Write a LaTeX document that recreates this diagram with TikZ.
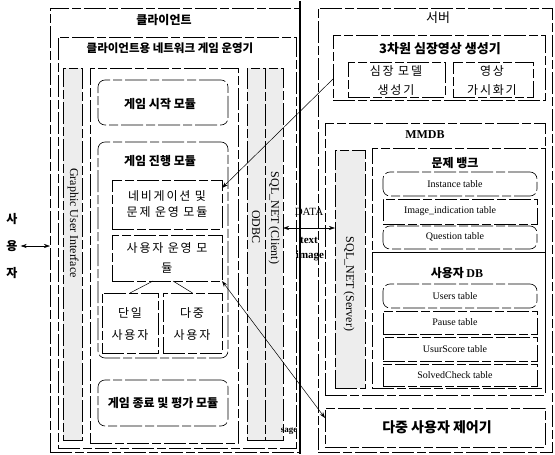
\documentclass[tikz,border=0pt]{standalone}
\usepackage{fontspec}
\setmainfont{Liberation Serif}
\newfontfamily\kr{Noto Sans CJK KR}
\newfontfamily\krw{Noto Sans CJK KR}[LetterSpace=15]
\usetikzlibrary{arrows.meta,calc,fit}
\tikzset{
  box/.style={draw, line width=0.6pt, dash pattern=on 22pt off 3pt on 9pt off 3pt, inner sep=0pt, outer sep=0pt},
  rbox/.style={box, rounded corners=7pt},
  strip/.style={box, fill=black!7},
  ttl/.style={inner sep=0pt, font=\kr\bfseries\fontsize{12}{14}\selectfont},
  lbl/.style={inner sep=0pt, align=center, font=\krw\fontsize{12}{19}\selectfont},
  tbl/.style={inner sep=0pt, font=\fontsize{10}{12}\selectfont},
  vtxt/.style={inner sep=0pt, rotate=-90, font=\fontsize{12}{14}\selectfont},
  arr/.style={line width=0.5pt, -{Stealth[length=6pt,width=4pt]}},
  darr/.style={line width=0.5pt, {Stealth[length=6pt,width=4pt]}-{Stealth[length=6pt,width=4pt]}},
}
\begin{document}
\begin{tikzpicture}[x=1pt,y=-1pt]
\useasboundingbox (0,0) rectangle (555,455);

% ---------- client side ----------
\node[box, fit={(50,8)(300,452)}] (client) {};
\node[ttl] (clientT) at (164,20) {클라이언트};
\node[box, fit={(58,37)(296,448)}] (ops) {};
\node[ttl, font=\kr\bfseries\fontsize{11.5}{14}\selectfont] (opsT) at (170,48) {클라이언트용 네트워크 게임 운영기};

\node[strip, fit={(63,68)(82,440)}] (gui) {};
\node[vtxt] (guiT) at (73,223) {Graphic User Interface};

\node[box, fit={(90,68)(238,443)}] (mods) {};
\node[rbox, fit={(98,80)(228,125)}] (start) {};
\node[ttl] (startT) at (160,104) {게임 시작 모듈};
\node[rbox, fit={(98,142)(228,358)}] (prog) {};
\node[ttl] (progT) at (160,161) {게임 진행 모듈};
\node[box, fit={(112,180)(222,229)}] (nav) {};
\node[lbl, font=\krw\fontsize{12}{16}\selectfont] (navT) at (167,204) {네비게이션 및\\문제 운영 모듈};
\node[box, fit={(112,235)(222,281)}] (userop) {};
\node[lbl, font=\krw\fontsize{12}{20}\selectfont] (useropT) at (167,258) {사용자 운영 모\\듈};
\node[box, fit={(102,293)(158,353)}] (single) {};
\node[lbl, font=\krw\fontsize{12}{22}\selectfont] (singleT) at (130,324) {단일\\사용자};
\node[box, fit={(163,293)(222,353)}] (multi) {};
\node[lbl, font=\krw\fontsize{12}{22}\selectfont] (multiT) at (192,324) {다중\\사용자};
\draw[line width=0.5pt] ($(userop.south)+(-14,0)$) -- (single.north);
\draw[line width=0.5pt] ($(userop.south)+(6,0)$) -- (multi.north);
\node[rbox, fit={(98,380)(228,426)}] (end) {};
\node[ttl] (endT) at (163,403) {게임 종료 및 평가 모듈};

\node[strip, fit={(247,68)(265,440)}] (odbc) {};
\node[vtxt] (odbcT) at (256,227) {ODBC};
\node[strip, fit={(265,68)(283,440)}] (sqlc) {};
\node[vtxt] (sqlcT) at (274,218) {SQL\_NET (Client)};

\coordinate (divt) at (300,1);
\coordinate (divb) at (300,454);
\draw[line width=1.1pt] (divt) -- (divb);

% ---------- user ----------
\node[inner sep=0pt, align=center, font=\kr\bfseries\fontsize{12}{27}\selectfont] (user) at (12,246) {사\\용\\자};
\draw[darr] ($(user.east)+(3,0)$) -- (user.east -| client.west);

% ---------- server side ----------
\node[box, fit={(318,8)(552,452)}] (server) {};
\node[inner sep=0pt, font=\kr\fontsize{13}{15}\selectfont] (serverT) at (438,18) {서버};
\node[box, fit={(333,35)(545,100)}] (g3d) {};
\node[ttl, font=\kr\bfseries\fontsize{13}{15}\selectfont] (g3dT) at (440,49) {3차원 심장영상 생성기};
\node[box, fit={(348,62)(445,97)}] (heart) {};
\node[lbl] (heartT) at (396,81) {심장 모델\\생성기};
\node[box, fit={(453,62)(533,97)}] (vis) {};
\node[lbl] (visT) at (492,81) {영상\\가시화기};

\node[box, fit={(325,123)(545,395)}] (mmdb) {};
\node[inner sep=0pt, font=\bfseries\fontsize{12}{14}\selectfont] (mmdbT) at (425,135) {MMDB};
\node[strip, fit={(335,150)(365,388)}] (sqls) {};
\node[vtxt] (sqlsT) at (349,284) {SQL\_NET (Server)};

\node[box, fit={(372,148)(545,252)}] (bank) {};
\node[ttl] (bankT) at (455,163) {문제 뱅크};
\node[rbox, fit={(383,172)(537,196)}] (inst) {};
\node[tbl] (instT) at (455,184) {Instance table};
\node[box, fit={(383,199)(537,224)}] (imgi) {};
\node[tbl] (imgiT) at (450,211) {Image\_indication table};
\node[rbox, fit={(383,226)(537,249)}] (ques) {};
\node[tbl] (quesT) at (455,237) {Question table};

\node[box, fit={(372,252)(545,388)}] (udb) {};
\node[inner sep=0pt] (udbT) at (457,273) {{\kr\bfseries\fontsize{12}{14}\selectfont 사용자} {\bfseries\fontsize{12}{14}\selectfont DB}};
\node[rbox, fit={(383,284)(537,308)}] (users) {};
\node[tbl] (usersT) at (455,296) {Users table};
\node[box, fit={(383,311)(537,334)}] (pause) {};
\node[tbl] (pauseT) at (455,322) {Pause table};
\node[box, fit={(383,337)(537,361)}] (score) {};
\node[tbl] (scoreT) at (455,349) {UsurScore table};
\node[box, fit={(383,364)(537,386)}] (solved) {};
\node[tbl] (solvedT) at (455,375) {SolvedCheck table};

\node[box, fit={(325,408)(545,447)}] (ctrl) {};
\node[ttl, font=\kr\bfseries\fontsize{14}{16}\selectfont] (ctrlT) at (437,427) {다중 사용자 제어기};

% ---------- connectors ----------
\coordinate (datay) at (0,228);
\draw[darr] (sqlc.east |- datay) -- (sqls.west |- datay);
\node[inner sep=0pt, font=\fontsize{11}{13}\selectfont] (dataT) at (309,212) {DATA};
\node[inner sep=0pt, font=\bfseries\fontsize{11}{13}\selectfont] (textT) at (309,240) {text};
\node[inner sep=0pt, font=\bfseries\fontsize{11}{13}\selectfont] (imageT) at (310,256) {image};

\coordinate (navsrc) at (333,79);
\draw[arr] (navsrc) -- ($(nav.north east)+(0,8)$);

\draw[darr] (userop.south east) -- ($(ctrl.north west)+(0,10)$);
\node[inner sep=0pt, font=\bfseries\fontsize{9}{11}\selectfont] (sageT) at (289,431) {sage};
\end{tikzpicture}
\end{document}
